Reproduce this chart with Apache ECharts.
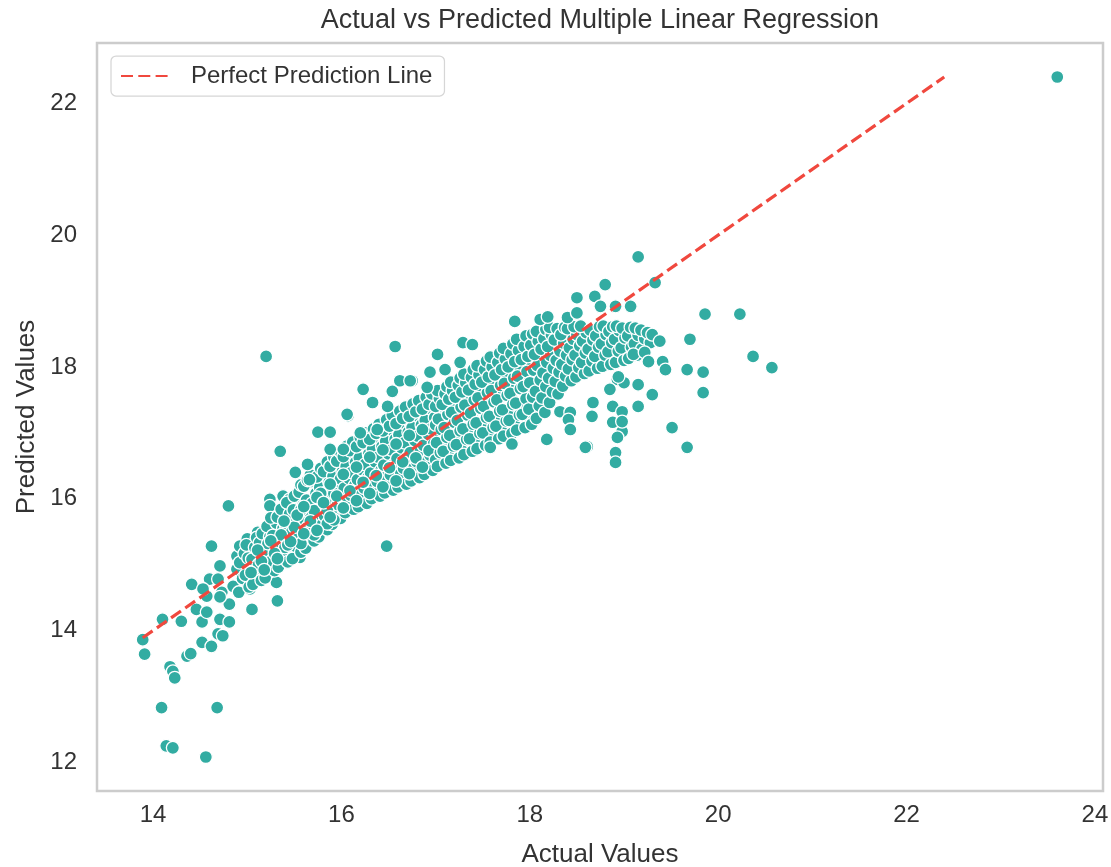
<!DOCTYPE html>
<html>
<head>
<meta charset="utf-8">
<title>Actual vs Predicted Multiple Linear Regression</title>
<script src="https://cdn.jsdelivr.net/npm/echarts@6/dist/echarts.min.js"></script>
<style>
  html, body { margin: 0; padding: 0; background: #ffffff; }
  #chart { width: 1111px; height: 867px; }
</style>
</head>
<body>
<div id="chart"></div>
<script>
// Test-set points as [actual, predicted]

// sparse points at the low end of the range
const lowerTail = [
  [13.89,13.86],[13.91,13.64],[14.10,14.17],[14.30,14.14],[14.18,13.45],[14.21,13.38],[14.23,13.28],
  [14.36,13.61],[14.40,13.65],[14.09,12.83],[14.68,12.83],[14.14,12.25],[14.21,12.22],[14.56,12.08],
  [14.41,14.70],[14.52,13.82],[14.62,13.76],[14.46,14.32],[14.52,14.13],[14.57,14.28],[14.57,14.52],
  [14.60,14.78],[14.71,14.98],[14.69,14.78],[14.73,14.58],[14.71,14.17],[14.69,13.95],[14.74,13.92],
  [14.81,14.13],[14.81,14.40],[14.85,14.67],[14.89,14.93],[14.89,15.13],[14.92,15.28],[15.00,15.39],
  [15.03,14.63],[15.05,14.32],[15.13,14.93],[15.11,15.49],[15.17,15.34],[15.24,15.13],[15.31,14.73],
  [15.32,14.45],[15.31,14.98],[15.38,15.04],[15.42,15.23],[15.27,15.54],[15.35,15.64],[15.42,15.54],
  [15.48,15.58],[15.53,15.69],[15.56,15.11],[15.66,15.49],[15.66,15.39],[15.59,15.79],[15.70,15.84],
  [15.77,15.99],[15.56,16.19],[15.66,16.25],[15.24,15.99],[15.38,16.04],[15.24,15.89],[15.45,15.99],
  [15.53,15.89],[15.79,15.64],[15.85,15.79],[14.62,15.28],[14.80,15.89],[14.53,14.63],[14.71,14.51]
];

// main band, actual 14.9 - 16.0
const bandA = [
  [14.91,14.58],[14.95,14.79],[14.92,15.03],[14.97,15.17],
  [15.02,14.66],[14.98,14.84],[15.01,15.10],[14.99,15.30],
  [15.06,14.70],[15.09,14.93],[15.05,15.08],[15.08,15.26],[15.10,15.41],
  [15.15,14.76],[15.12,15.00],[15.17,15.15],[15.13,15.33],[15.16,15.47],
  [15.19,14.80],[15.23,14.97],[15.20,15.21],[15.24,15.42],[15.21,15.58],
  [15.29,14.91],[15.26,15.06],[15.30,15.29],[15.27,15.44],[15.31,15.63],[15.25,15.71],
  [15.33,14.96],[15.37,15.18],[15.34,15.33],[15.38,15.55],[15.32,15.72],[15.36,15.84],
  [15.43,15.04],[15.40,15.26],[15.44,15.40],[15.41,15.60],[15.45,15.77],[15.42,15.94],
  [15.48,15.09],[15.51,15.28],[15.47,15.49],[15.52,15.64],[15.49,15.83],[15.50,16.04],
  [15.57,15.19],[15.54,15.40],[15.58,15.55],[15.55,15.76],[15.59,15.90],[15.55,16.10],[15.57,16.21],
  [15.62,15.25],[15.65,15.44],[15.61,15.66],[15.66,15.80],[15.63,15.98],[15.60,16.19],[15.64,16.28],
  [15.71,15.36],[15.68,15.58],[15.72,15.72],[15.69,15.93],[15.73,16.08],[15.70,16.27],[15.67,16.36],
  [15.76,15.42],[15.79,15.60],[15.75,15.83],[15.80,15.99],[15.77,16.17],[15.74,16.33],[15.78,16.46],
  [15.85,15.53],[15.82,15.74],[15.86,15.89],[15.83,16.09],[15.87,16.25],[15.81,16.41],[15.85,16.56],
  [15.90,15.61],[15.93,15.78],[15.89,16.00],[15.94,16.16],[15.91,16.34],[15.88,16.49],[15.92,16.63],
  [15.99,15.70],[15.96,15.91],[16.00,16.06],[15.97,16.25],[16.01,16.41],[15.95,16.57],[15.99,16.71]
];

// main band, actual 16.0 - 17.0
const bandB = [
  [16.04,15.79],[16.07,15.94],[16.03,16.16],[16.08,16.31],[16.05,16.49],[16.02,16.64],[16.06,16.80],
  [16.13,15.84],[16.10,16.05],[16.14,16.20],[16.11,16.40],[16.15,16.55],[16.09,16.73],[16.12,16.86],
  [16.18,15.88],[16.21,16.06],[16.17,16.29],[16.22,16.44],[16.19,16.62],[16.16,16.79],[16.20,16.93],
  [16.27,15.93],[16.24,16.16],[16.28,16.32],[16.25,16.52],[16.29,16.68],[16.23,16.85],[16.26,17.00],
  [16.32,16.00],[16.35,16.17],[16.31,16.39],[16.36,16.56],[16.33,16.75],[16.30,16.90],[16.34,17.06],
  [16.41,16.04],[16.38,16.26],[16.42,16.43],[16.39,16.63],[16.43,16.79],[16.37,16.99],[16.40,17.13],
  [16.46,16.09],[16.49,16.28],[16.45,16.51],[16.50,16.68],[16.47,16.87],[16.44,17.03],[16.48,17.20],
  [16.55,16.13],[16.52,16.36],[16.56,16.53],[16.53,16.74],[16.57,16.90],[16.51,17.10],[16.54,17.27],
  [16.60,16.18],[16.63,16.38],[16.59,16.61],[16.64,16.77],[16.61,16.97],[16.58,17.14],[16.62,17.33],
  [16.69,16.22],[16.66,16.46],[16.70,16.63],[16.67,16.85],[16.71,17.01],[16.65,17.22],[16.68,17.39],
  [16.74,16.27],[16.77,16.47],[16.73,16.70],[16.78,16.88],[16.75,17.08],[16.72,17.25],[16.76,17.44],
  [16.83,16.32],[16.80,16.56],[16.84,16.73],[16.81,16.95],[16.85,17.12],[16.79,17.32],[16.82,17.49],
  [16.88,16.37],[16.91,16.57],[16.87,16.81],[16.92,16.98],[16.89,17.19],[16.86,17.36],[16.90,17.54],
  [16.97,16.43],[16.94,16.66],[16.98,16.84],[16.95,17.06],[16.99,17.23],[16.93,17.43],[16.96,17.59]
];

// main band, actual 17.0 - 18.0
const bandC = [
  [17.02,16.49],[17.05,16.70],[17.01,16.85],[17.06,17.05],[17.03,17.21],[17.00,17.40],[17.04,17.52],[17.02,17.64],
  [17.11,16.54],[17.08,16.72],[17.12,16.93],[17.09,17.08],[17.13,17.28],[17.07,17.43],[17.10,17.59],[17.12,17.70],
  [17.16,16.58],[17.19,16.80],[17.15,16.96],[17.20,17.16],[17.17,17.31],[17.14,17.51],[17.18,17.64],[17.16,17.77],
  [17.25,16.62],[17.22,16.82],[17.26,17.03],[17.23,17.19],[17.27,17.39],[17.21,17.54],[17.24,17.72],[17.26,17.83],
  [17.30,16.67],[17.33,16.90],[17.29,17.06],[17.34,17.27],[17.31,17.42],[17.28,17.62],[17.32,17.76],[17.30,17.89],
  [17.39,16.72],[17.36,16.91],[17.40,17.13],[17.37,17.30],[17.41,17.50],[17.35,17.65],[17.38,17.84],[17.40,17.96],
  [17.44,16.76],[17.47,16.99],[17.43,17.15],[17.48,17.37],[17.45,17.53],[17.42,17.74],[17.46,17.88],[17.44,18.02],
  [17.53,16.81],[17.50,17.00],[17.54,17.23],[17.51,17.40],[17.55,17.61],[17.49,17.77],[17.52,17.96],[17.54,18.09],
  [17.58,16.86],[17.61,17.08],[17.57,17.25],[17.62,17.47],[17.59,17.64],[17.56,17.85],[17.60,18.00],[17.58,18.15],
  [17.67,16.91],[17.64,17.10],[17.68,17.33],[17.65,17.50],[17.69,17.72],[17.63,17.88],[17.66,18.07],[17.68,18.21],
  [17.72,16.95],[17.75,17.18],[17.71,17.35],[17.76,17.57],[17.73,17.75],[17.70,17.96],[17.74,18.12],[17.72,18.28],
  [17.81,16.99],[17.78,17.19],[17.82,17.43],[17.79,17.60],[17.83,17.83],[17.77,18.00],[17.80,18.20],[17.82,18.35],
  [17.86,17.04],[17.89,17.27],[17.85,17.45],[17.90,17.67],[17.87,17.86],[17.84,18.08],[17.88,18.25],[17.86,18.42],
  [17.95,17.08],[17.92,17.28],[17.96,17.52],[17.93,17.70],[17.97,17.93],[17.91,18.11],[17.94,18.31],[17.96,18.47]
];

// main band, actual 18.0 - 19.3, where the predictions level off
const bandD = [
  [18.02,17.13],[17.99,17.36],[18.03,17.54],[18.00,17.76],[18.04,17.95],[17.98,18.16],[18.01,18.33],[18.03,18.50],
  [18.07,17.22],[18.10,17.41],[18.06,17.63],[18.11,17.80],[18.08,18.02],[18.05,18.19],[18.09,18.39],[18.07,18.54],
  [18.16,17.31],[18.13,17.53],[18.17,17.70],[18.14,17.91],[18.18,18.07],[18.12,18.27],[18.15,18.43],[18.17,18.57],
  [18.21,17.46],[18.24,17.62],[18.20,17.83],[18.25,17.98],[18.22,18.17],[18.19,18.31],[18.23,18.49],[18.21,18.60],
  [18.30,17.59],[18.27,17.78],[18.31,17.92],[18.28,18.10],[18.32,18.24],[18.26,18.41],[18.29,18.58],
  [18.35,17.71],[18.38,17.86],[18.34,18.04],[18.39,18.18],[18.36,18.36],[18.33,18.49],[18.37,18.60],
  [18.44,17.79],[18.41,17.97],[18.45,18.11],[18.42,18.29],[18.46,18.42],[18.40,18.58],
  [18.49,17.85],[18.52,17.99],[18.48,18.18],[18.53,18.32],[18.50,18.49],[18.47,18.61],
  [18.58,17.90],[18.55,18.07],[18.59,18.21],[18.56,18.39],[18.60,18.52],[18.54,18.62],
  [18.63,17.94],[18.66,18.09],[18.62,18.27],[18.67,18.41],[18.64,18.56],
  [18.72,17.98],[18.69,18.16],[18.73,18.30],[18.70,18.47],[18.74,18.61],
  [18.77,18.01],[18.80,18.18],[18.76,18.35],[18.81,18.49],[18.78,18.62],
  [18.86,18.04],[18.83,18.23],[18.87,18.37],[18.84,18.54],[18.88,18.61],
  [18.91,18.07],[18.94,18.24],[18.90,18.42],[18.95,18.55],[18.92,18.62],
  [19.00,18.10],[18.97,18.29],[19.01,18.44],[18.98,18.59],
  [19.05,18.13],[19.08,18.30],[19.04,18.47],[19.07,18.60],
  [19.14,18.18],[19.11,18.35],[19.15,18.48],[19.12,18.59],
  [19.19,18.27],[19.22,18.43],[19.18,18.56],
  [19.28,18.37],[19.25,18.52]
];

// points lying between the band columns
const bandFill = [
  [15.04,14.88],[15.11,15.22],[15.18,14.92],[15.25,15.36],[15.32,15.09],[15.39,15.66],[15.46,15.35],
  [15.53,15.75],[15.60,15.47],[15.60,15.88],[15.67,15.66],[15.74,16.02],[15.74,15.52],[15.81,15.94],
  [15.88,15.72],[15.88,16.22],[15.95,16.04],[16.02,15.86],[16.02,16.37],[16.09,16.12],[16.16,16.48],
  [16.16,15.97],[16.23,16.25],[16.30,16.63],[16.30,16.08],[16.37,16.35],[16.44,16.74],[16.44,16.18],
  [16.51,16.47],[16.58,16.83],[16.58,16.27],[16.65,16.56],[16.72,16.96],[16.72,16.38],[16.79,16.62],
  [16.86,17.05],[16.86,16.48],[16.93,16.73],[17.00,17.12],[17.00,16.59],[17.07,16.85],[17.14,17.22],
  [17.14,16.66],[17.21,16.95],[17.28,17.33],[17.28,16.73],[17.35,17.04],[17.42,17.42],[17.42,16.84],
  [17.49,17.12],[17.56,17.53],[17.56,16.93],[17.63,17.21],[17.70,17.62],[17.70,17.03],[17.77,17.31],
  [17.84,17.72],[17.84,17.12],[17.91,17.38],[17.98,17.82],[17.98,17.22],[18.05,17.48],[18.12,17.88],
  [18.12,17.38],[18.19,17.60],[18.26,17.90],[18.26,18.50],[18.33,17.68],[18.40,17.84],[18.40,18.38],
  [18.47,18.02],[18.54,18.25],[18.61,17.98],[18.61,18.46],[18.68,18.22],[18.75,18.08],[18.75,18.52],
  [18.82,18.28],[18.89,18.12],[18.89,18.47],[18.96,18.31],[19.03,18.20],[19.03,18.52],[19.10,18.40],
  [19.17,18.33],[19.24,18.45]
];

// further points inside the band, offset from the columns above
const bandFill2 = [
  [15.15,15.05],[15.22,15.32],[15.29,15.17],[15.36,15.45],[15.43,15.30],[15.50,15.57],[15.57,15.32],
  [15.57,15.83],[15.64,15.57],[15.71,15.82],[15.71,15.45],[15.78,16.08],[15.85,15.82],[15.85,15.62],
  [15.92,16.08],[15.92,15.68],[15.99,16.30],[16.06,16.02],[16.06,16.58],[16.13,16.30],[16.13,15.92],
  [16.20,16.53],[16.20,16.14],[16.27,16.40],[16.34,16.25],[16.34,16.82],[16.41,16.54],[16.48,16.38],
  [16.48,16.95],[16.55,16.62],[16.62,16.47],[16.62,17.05],[16.69,16.75],[16.76,16.56],[16.76,17.17],
  [16.83,16.85],[16.90,16.68],[16.90,17.27],[16.97,16.96],[17.04,16.78],[17.04,17.32],[17.11,17.00],
  [17.18,16.86],[17.18,17.42],[17.25,17.10],[17.32,16.95],[17.32,17.52],[17.39,17.22],[17.46,17.05],
  [17.46,17.63],[17.53,17.30],[17.60,17.15],[17.60,17.73],[17.67,17.40],[17.74,17.25],[17.74,17.84],
  [17.81,17.52],[17.88,17.35],[17.88,17.96],[17.95,17.62],[18.02,17.45],[18.02,18.05],[18.09,17.70],
  [18.16,17.58],[18.16,18.15],[18.23,17.74],[18.30,17.85],[18.30,18.32],[18.37,17.95],[18.44,18.05],
  [18.44,18.50],[18.51,18.12],[18.58,18.34],[18.65,18.15],[18.72,18.40],[18.79,18.24],[18.86,18.44],
  [18.93,18.18],[19.00,18.36],[19.07,18.45],[19.14,18.26]
];

// scattered points above the band
const scatterAbove = [
  [19.15,19.67],[19.33,19.28],[18.80,19.25],[18.69,19.07],[18.50,19.05],[18.75,18.92],[18.91,18.92],
  [19.07,18.92],[17.84,18.69],[18.11,18.72],[18.19,18.76],[18.40,18.75],[18.50,18.82],[17.29,18.37],
  [17.39,18.34],[17.26,18.07],[17.02,18.19],[17.10,17.96],[16.94,17.92],[16.62,17.79],[16.75,17.79],
  [16.23,17.66],[16.54,17.63],[16.07,17.26],[16.57,18.31],[15.20,18.16],[15.35,16.72],[16.33,17.46],
  [15.75,17.01],[15.88,17.01],[15.88,16.75],[16.02,16.75],[15.51,16.40],[15.66,16.29],[15.64,16.52],
  [16.06,17.28],[16.20,17.00],[16.38,17.05],[16.49,17.40],[16.73,17.79],[16.91,17.69]
];

// scattered points below the band and to the right
const scatterBelow = [
  [18.32,17.32],[18.43,17.31],[18.41,17.20],[18.43,17.05],[18.67,17.46],[18.66,17.25],[18.61,16.79],
  [18.93,17.81],[19.00,17.76],[18.85,17.66],[19.15,17.73],[19.15,17.40],[18.88,17.40],[18.98,17.32],
  [18.88,17.16],[18.98,17.02],[18.93,16.93],[18.91,16.70],[18.94,17.85],[18.98,17.17],[18.59,16.78],
  [18.91,16.55],[19.30,17.58],[19.10,18.19],[19.22,18.22],[19.26,18.08],[19.41,18.08],[19.44,17.96],
  [19.30,18.49],[19.38,18.39],[19.67,17.96],[19.84,17.92],[19.84,17.61],[19.70,18.42],[19.86,18.80],
  [20.23,18.80],[20.37,18.16],[20.57,17.99],[19.51,17.08],[19.67,16.78],[18.18,16.90],[17.81,16.83],
  [17.58,16.78],[16.48,15.28]
];

// the single largest observation
const extremes = [[23.60, 22.40]];

// y = x reference line from the smallest actual to the largest predicted value
const perfectLine = [13.89, 22.40];

const xTicks = [14, 16, 18, 20, 22, 24];
const yTicks = [12, 14, 16, 18, 20, 22];

const points = [].concat(lowerTail, bandA, bandFill2, bandB, bandFill, bandC, bandD,
  scatterAbove, scatterBelow, extremes);

// axis limits padded by 5% of the data span on each side
const allX = points.map(p => p[0]);
const allY = points.map(p => p[1]);
const xMinD = Math.min(...allX), xMaxD = Math.max(...allX);
const yMinD = Math.min(...allY), yMaxD = Math.max(...allY);
const xPad = (xMaxD - xMinD) * 0.05;
const yPad = (yMaxD - yMinD) * 0.05;

const FONT = '"Liberation Sans", Arial, sans-serif';
const TEXT = '#333333';
const GRID = { left: 97, right: 8, top: 43, bottom: 76 };

const chart = echarts.init(document.getElementById('chart'), null, { renderer: 'canvas' });

chart.setOption({
  animation: false,
  backgroundColor: '#ffffff',
  // title centred over the plotting area
  graphic: [{
    type: 'text',
    x: GRID.left + (1111 - GRID.left - GRID.right) / 2,
    y: 21,
    silent: true,
    style: {
      text: 'Actual vs Predicted Multiple Linear Regression',
      fontFamily: FONT,
      fontSize: 27,
      fill: TEXT,
      align: 'center',
      verticalAlign: 'middle',
      textAlign: 'center',
      textVerticalAlign: 'middle'
    }
  }],
  legend: {
    data: ['Perfect Prediction Line'],
    left: 111,
    top: 56,
    padding: [8, 12, 8, 9],
    itemWidth: 48,
    itemHeight: 14,
    itemStyle: { opacity: 0, color: 'rgba(0,0,0,0)', borderWidth: 0 },
    backgroundColor: '#ffffff',
    borderColor: '#d6d6d6',
    borderWidth: 1.25,
    borderRadius: 5,
    textStyle: { fontFamily: FONT, fontSize: 24, color: TEXT, padding: [0, 0, 0, 17] }
  },
  grid: {
    left: GRID.left, right: GRID.right, top: GRID.top, bottom: GRID.bottom,
    outerBoundsMode: 'none',
    containLabel: false,
    show: true,
    borderColor: '#cccccc',
    borderWidth: 2.5,
    backgroundColor: '#ffffff'
  },
  xAxis: {
    type: 'value',
    min: xMinD - xPad,
    max: xMaxD + xPad,
    name: 'Actual Values',
    nameLocation: 'middle',
    nameGap: 51,
    nameTextStyle: { fontFamily: FONT, fontSize: 26, color: TEXT },
    axisLine: { show: false },
    axisTick: { show: false },
    splitLine: { show: false },
    axisLabel: {
      customValues: xTicks,
      margin: 12,
      fontFamily: FONT, fontSize: 24, color: TEXT
    }
  },
  yAxis: {
    type: 'value',
    min: yMinD - yPad,
    max: yMaxD + yPad,
    name: 'Predicted Values',
    nameLocation: 'middle',
    nameGap: 55,
    nameTextStyle: { fontFamily: FONT, fontSize: 26, color: TEXT },
    axisLine: { show: false },
    axisTick: { show: false },
    splitLine: { show: false },
    axisLabel: {
      customValues: yTicks,
      margin: 20,
      padding: [9, 0, 0, 0],
      fontFamily: FONT, fontSize: 24, color: TEXT
    }
  },
  series: [
    {
      name: 'Observations',
      type: 'scatter',
      data: points,
      symbol: 'circle',
      symbolSize: 13,
      itemStyle: { color: '#32aca2', borderColor: '#ffffff', borderWidth: 1.3, opacity: 1 },
      emphasis: { disabled: true },
      z: 2
    },
    {
      name: 'Perfect Prediction Line',
      type: 'line',
      data: [[perfectLine[0], perfectLine[0]], [perfectLine[1], perfectLine[1]]],
      symbol: 'none',
      lineStyle: { color: '#f0483e', width: 3.2, type: [12, 5.3] },
      itemStyle: { color: '#f0483e' },
      emphasis: { disabled: true },
      z: 3
    }
  ]
});
</script>
</body>
</html>
